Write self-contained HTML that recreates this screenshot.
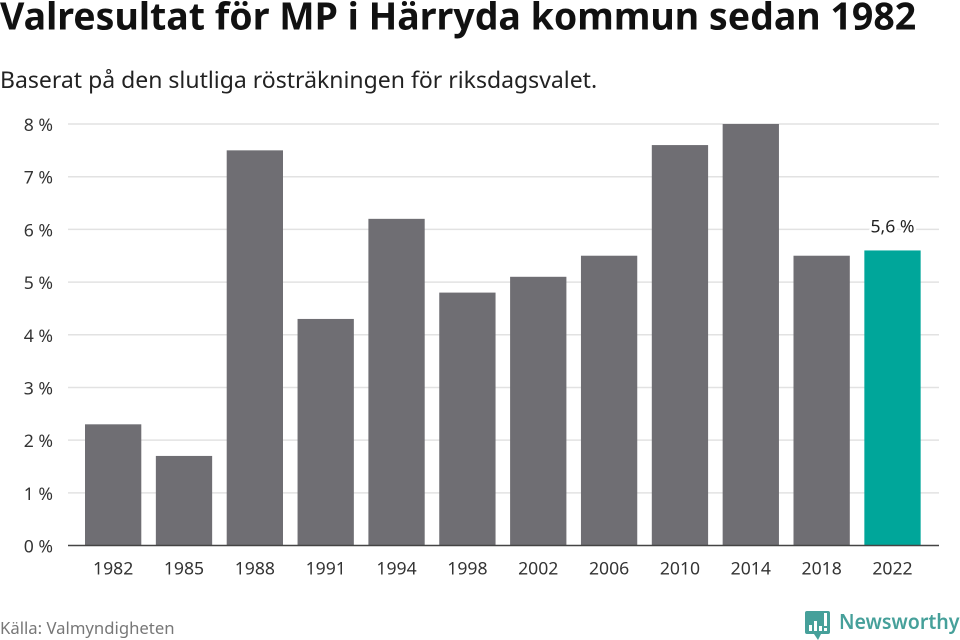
<!DOCTYPE html>
<html lang="sv">
<head>
<meta charset="utf-8">
<title>Valresultat för MP i Härryda kommun sedan 1982</title>
<style>
html,body{margin:0;padding:0;background:#fff;}
svg{display:block;}
text{font-family:"Noto Sans","Open Sans","Noto Sans CJK JP","Liberation Sans",sans-serif;}
</style>
</head>
<body>
<svg id="chart" width="960" height="640" viewBox="0 0 960 640" xmlns="http://www.w3.org/2000/svg">
<rect width="960" height="640" fill="#fff"/>
<text x="0" y="29.5" font-size="37.5" font-weight="700" fill="#111">Valresultat för MP i Härryda kommun sedan 1982</text>
<text x="0" y="88" font-size="23" fill="#222">Baserat på den slutliga rösträkningen för riksdagsvalet.</text>
<g id="grid"></g>
<g id="bars"></g>
<g id="xlabels"></g>
<g id="ylabels"></g>
<line x1="68" x2="939" y1="545.5" y2="545.5" stroke="#444" stroke-width="1.6"/>
<text id="value-label" font-size="17.6" fill="#222" text-anchor="middle" stroke="#fff" stroke-width="5" paint-order="stroke" stroke-linejoin="round"></text>
<text x="0" y="634" font-size="16.7" fill="#777">Källa: Valmyndigheten</text>
<g>
<path d="M807 611h21a2 2 0 0 1 2 2v19a2 2 0 0 1-2 2h-7l-3 6-4-6h-7a2 2 0 0 1-2-2v-19a2 2 0 0 1 2-2z" fill="#46a09a"/>
<rect x="809" y="625" width="3" height="6" fill="#fff"/>
<rect x="814" y="621" width="3" height="10" fill="#fff"/>
<rect x="819" y="626" width="3" height="5" fill="#fff"/>
<rect x="824" y="613" width="3" height="13" fill="#fff"/>
<rect x="824" y="628" width="3" height="3" fill="#fff"/>
<text x="839" y="629" font-size="21" font-weight="600" fill="#46a09a" textLength="120.5" lengthAdjust="spacingAndGlyphs">Newsworthy</text>
</g>
</svg>
<script>
const categories = ["1982","1985","1988","1991","1994","1998","2002","2006","2010","2014","2018","2022"];
const seriesValues = [2.3,1.7,7.5,4.3,6.2,4.8,5.1,5.5,7.6,8.0,5.5,5.6];
const yTicks = [0,1,2,3,4,5,6,7,8];
const highlightLabel = "5,6 %";

const NS = "http://www.w3.org/2000/svg";
function yScale(v){ return 545.5 - v * (545.5 - 124) / 8; }
function xScale(i){ return 85 + i * 70.85; }
const barWidth = 56.3;

const grid = document.getElementById("grid");
const ylabels = document.getElementById("ylabels");
yTicks.forEach(function(t){
  const y = yScale(t);
  if (t !== 0) {
    const l = document.createElementNS(NS, "line");
    
    
    l.setAttribute("x1", 68);
    l.setAttribute("x2", 939);
    l.setAttribute("y1", y);
    l.setAttribute("y2", y);
    l.setAttribute("stroke", "#e2e2e2");
    l.setAttribute("stroke-width", "1.5");
    grid.appendChild(l);
  }
  const tx = document.createElementNS(NS, "text");
  
  
  tx.setAttribute("x", 53);
  tx.setAttribute("y", y + 7);
  tx.setAttribute("text-anchor", "end");
  tx.setAttribute("font-size", "17.6");
  tx.setAttribute("fill", "#333");
  tx.textContent = t + " %";
  ylabels.appendChild(tx);
});

const bars = document.getElementById("bars");
const xlabels = document.getElementById("xlabels");
categories.forEach(function(c, i){
  const r = document.createElementNS(NS, "rect");
  
  
  const top = yScale(seriesValues[i]);
  r.setAttribute("x", xScale(i));
  r.setAttribute("y", top);
  r.setAttribute("width", barWidth);
  r.setAttribute("height", yScale(0) - top);
  r.setAttribute("fill", i === categories.length - 1 ? "#00a69a" : "#6f6e73");
  bars.appendChild(r);

  const tx = document.createElementNS(NS, "text");
  
  
  tx.setAttribute("x", xScale(i) + barWidth / 2);
  tx.setAttribute("y", 574.5);
  tx.setAttribute("text-anchor", "middle");
  tx.setAttribute("font-size", "17.6");
  tx.setAttribute("fill", "#333");
  tx.textContent = c;
  xlabels.appendChild(tx);
});

const last = categories.length - 1;
const vl = document.getElementById("value-label");
vl.setAttribute("x", xScale(last) + barWidth / 2);
vl.setAttribute("y", yScale(seriesValues[last]) - 18);
vl.textContent = highlightLabel;
</script>
</body>
</html>
